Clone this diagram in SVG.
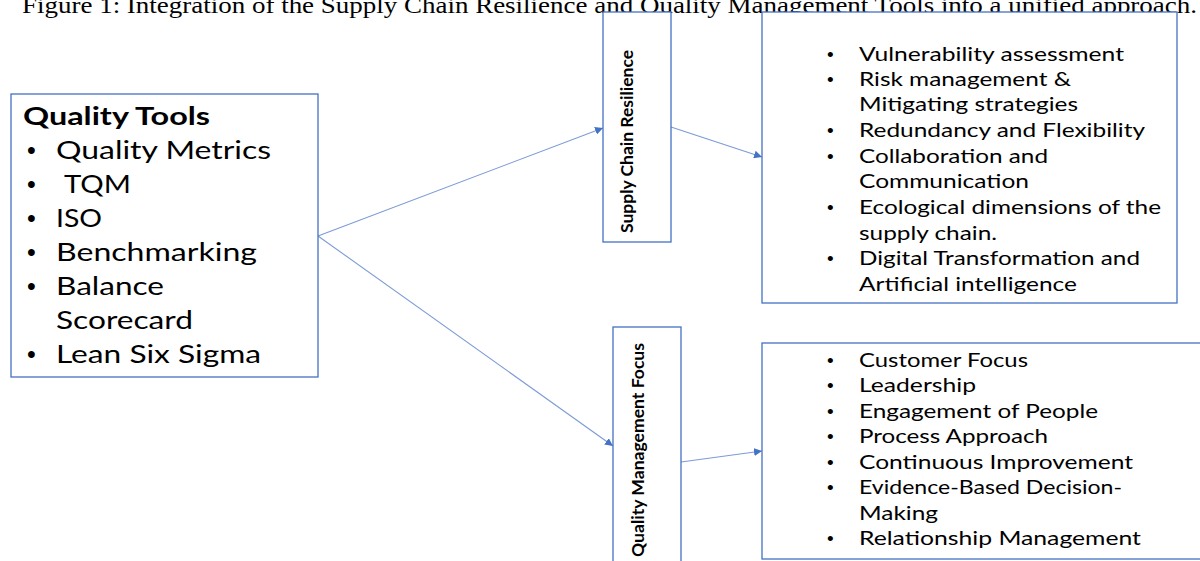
<svg xmlns="http://www.w3.org/2000/svg" width="1200" height="561" viewBox="0 0 1200 561">
<defs>
<marker id="arr" viewBox="0 0 10 10" refX="10" refY="5" markerWidth="8" markerHeight="8" markerUnits="userSpaceOnUse" orient="auto">
<path d="M0,0 L10,5 L0,10 z" fill="#4472C4"/>
</marker>
<style>
.box{fill:#fff;stroke:#4472C4;stroke-width:1.3}
.con{stroke:#7C9BD6;stroke-width:1.1;fill:none}
.t{font-family:Lato,"Open Sans","Liberation Sans",sans-serif;fill:#000}
.big{font-size:25px}
.mid{font-size:19px}
.bl{font-family:"Liberation Sans",sans-serif}
.vt{font-size:17px;font-weight:bold}
.title{font-family:"Liberation Serif","Times New Roman",serif;font-size:23px;fill:#000}
</style>
</defs>
<rect width="1200" height="561" fill="#fff"/>
<text class="title" x="22" y="13" textLength="1175" lengthAdjust="spacingAndGlyphs">Figure 1: Integration of the Supply Chain Resilience and Quality Management Tools into a unified approach.</text>

<g id="connectors">
<line class="con" x1="318" y1="236" x2="603" y2="128" marker-end="url(#arr)"/>
<line class="con" x1="318" y1="236" x2="613" y2="446" marker-end="url(#arr)"/>
<line class="con" x1="671" y1="127" x2="762" y2="157" marker-end="url(#arr)"/>
<line class="con" x1="681" y1="462" x2="762" y2="451" marker-end="url(#arr)"/>
</g>

<g id="quality-tools">
<rect class="box" x="11" y="94" width="307" height="283"/>
<text class="t big" x="23" y="125" font-weight="bold" textLength="187" lengthAdjust="spacingAndGlyphs">Quality Tools</text>
<g class="t big">
<text class="bl" x="27" y="159">•</text><text x="56" y="159" textLength="215" lengthAdjust="spacingAndGlyphs">Quality Metrics</text>
<text class="bl" x="27" y="193">•</text><text x="64" y="193" textLength="67" lengthAdjust="spacingAndGlyphs">TQM</text>
<text class="bl" x="27" y="227">•</text><text x="56" y="227" textLength="46" lengthAdjust="spacingAndGlyphs">ISO</text>
<text class="bl" x="27" y="261">•</text><text x="56" y="261" textLength="201" lengthAdjust="spacingAndGlyphs">Benchmarking</text>
<text class="bl" x="27" y="295">•</text><text x="56" y="295" textLength="108" lengthAdjust="spacingAndGlyphs">Balance</text>
<text x="56" y="329" textLength="137" lengthAdjust="spacingAndGlyphs">Scorecard</text>
<text class="bl" x="27" y="363">•</text><text x="56" y="363" textLength="205" lengthAdjust="spacingAndGlyphs">Lean Six Sigma</text>
</g>
</g>

<g id="supply-chain-resilience">
<rect class="box" x="603" y="12" width="68" height="230"/>
<text class="t vt" transform="translate(633,233) rotate(-90)" textLength="183" lengthAdjust="spacingAndGlyphs">Supply Chain Resilience</text>
</g>

<g id="quality-management-focus">
<rect class="box" x="613" y="327" width="68" height="240"/>
<text class="t vt" transform="translate(644,557) rotate(-90)" textLength="214" lengthAdjust="spacingAndGlyphs">Quality Management Focus</text>
</g>

<g id="resilience-items">
<rect class="box" x="762" y="12" width="415" height="291"/>
<g class="t mid">
<text class="bl" x="827" y="61">•</text><text x="859" y="61" textLength="265" lengthAdjust="spacingAndGlyphs">Vulnerability assessment</text>
<text class="bl" x="827" y="86">•</text><text x="859" y="86" textLength="212" lengthAdjust="spacingAndGlyphs">Risk management &amp;</text>
<text x="859" y="111" textLength="219" lengthAdjust="spacingAndGlyphs">Mitigating strategies</text>
<text class="bl" x="827" y="137">•</text><text x="859" y="137" textLength="286" lengthAdjust="spacingAndGlyphs">Redundancy and Flexibility</text>
<text class="bl" x="827" y="163">•</text><text x="859" y="163" textLength="189" lengthAdjust="spacingAndGlyphs">Collaboration and</text>
<text x="859" y="188" textLength="170" lengthAdjust="spacingAndGlyphs">Communication</text>
<text class="bl" x="827" y="214">•</text><text x="859" y="214" textLength="302" lengthAdjust="spacingAndGlyphs">Ecological dimensions of the</text>
<text x="859" y="240" textLength="138" lengthAdjust="spacingAndGlyphs">supply chain.</text>
<text class="bl" x="827" y="265">•</text><text x="859" y="265" textLength="281" lengthAdjust="spacingAndGlyphs">Digital Transformation and</text>
<text x="859" y="291" textLength="218" lengthAdjust="spacingAndGlyphs">Artificial intelligence</text>
</g>
</g>

<g id="quality-items">
<rect class="box" x="762" y="343" width="450" height="216"/>
<g class="t mid">
<text class="bl" x="827" y="367">•</text><text x="859" y="367" textLength="169" lengthAdjust="spacingAndGlyphs">Customer Focus</text>
<text class="bl" x="827" y="392">•</text><text x="859" y="392" textLength="117" lengthAdjust="spacingAndGlyphs">Leadership</text>
<text class="bl" x="827" y="418">•</text><text x="859" y="418" textLength="239" lengthAdjust="spacingAndGlyphs">Engagement of People</text>
<text class="bl" x="827" y="443">•</text><text x="859" y="443" textLength="189" lengthAdjust="spacingAndGlyphs">Process Approach</text>
<text class="bl" x="827" y="469">•</text><text x="859" y="469" textLength="274" lengthAdjust="spacingAndGlyphs">Continuous Improvement</text>
<text class="bl" x="827" y="494">•</text><text x="859" y="494" textLength="263" lengthAdjust="spacingAndGlyphs">Evidence-Based Decision-</text>
<text x="859" y="520" textLength="79" lengthAdjust="spacingAndGlyphs">Making</text>
<text class="bl" x="827" y="545">•</text><text x="859" y="545" textLength="282" lengthAdjust="spacingAndGlyphs">Relationship Management</text>
</g>
</g>
</svg>
